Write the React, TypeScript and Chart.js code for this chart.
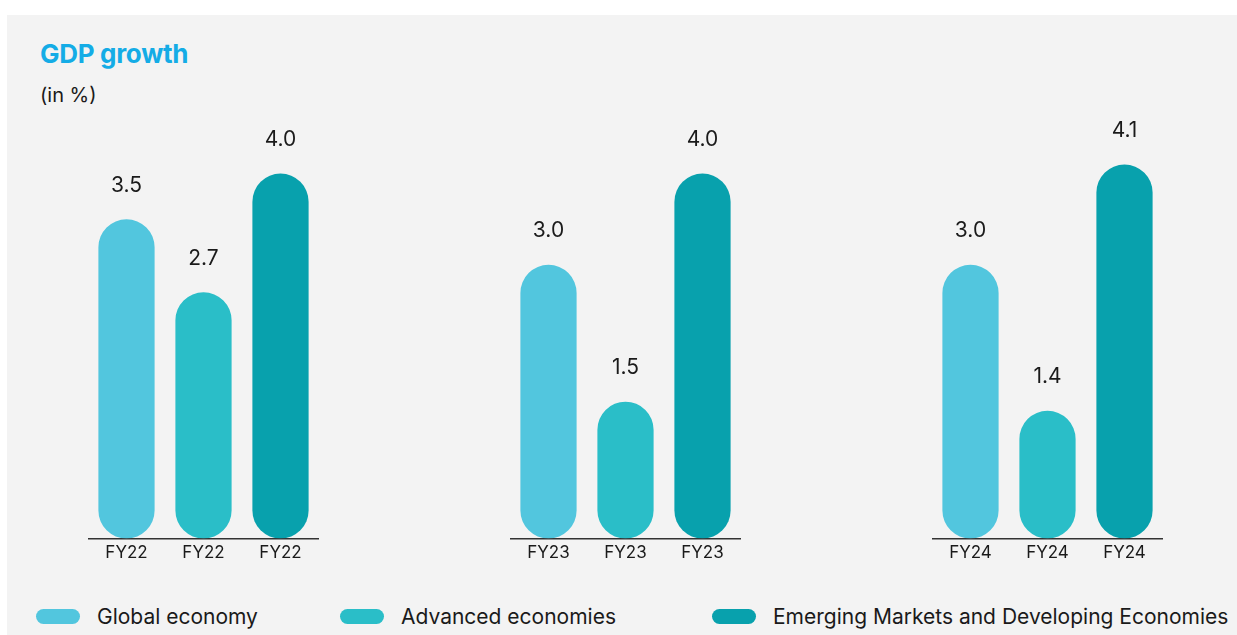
import React, { useEffect, useRef } from "react";
import { Chart, registerables } from "chart.js";

Chart.register(...registerables);

const years = ["FY22", "FY23", "FY24"];
const seriesNames = [
  "Global economy",
  "Advanced economies",
  "Emerging Markets and Developing Economies",
];
const globalEconomy = [3.5, 3.0, 3.0];
const advancedEconomies = [2.7, 1.5, 1.4];
const emergingEconomies = [4.0, 4.0, 4.1];
const seriesColors = ["#52c6de", "#2abec8", "#08a1ad"];

const FONT = "Inter, 'Noto Sans', sans-serif";

const groupLefts = [88, 510, 932];
const legendLefts = [36, 340, 712];

const valueLabelPlugin = {
  id: "valueLabels",
  afterDatasetsDraw(chart: any) {
    const ctx = chart.ctx;
    ctx.save();
    ctx.font = `21px ${FONT}`;
    ctx.fillStyle = "#1a1a1a";
    ctx.textAlign = "center";
    ctx.textBaseline = "middle";
    chart.data.datasets.forEach((ds: any, di: number) => {
      const meta = chart.getDatasetMeta(di);
      meta.data.forEach((bar: any, i: number) => {
        ctx.fillText(Number(ds.data[i]).toFixed(1), bar.x, bar.y - 34);
      });
    });
    ctx.restore();
  },
};

function GroupChart({ index }: { index: number }) {
  const ref = useRef<HTMLCanvasElement | null>(null);
  useEffect(() => {
    if (!ref.current) return;
    const year = years[index];
    const chart = new Chart(ref.current, {
      type: "bar",
      data: {
        labels: [year, year, year],
        datasets: [
          {
            data: [globalEconomy[index], advancedEconomies[index], emergingEconomies[index]],
            backgroundColor: seriesColors,
            borderRadius: 100,
            borderSkipped: false,
            barPercentage: 0.73,
            categoryPercentage: 1,
          },
        ],
      },
      options: {
        responsive: false,
        animation: false,
        layout: { padding: { top: 17, bottom: 14, left: 0, right: 0 } },
        plugins: { legend: { display: false }, tooltip: { enabled: false } },
        scales: {
          y: { display: false, min: 0, max: 4.5 },
          x: {
            grid: { display: false, drawTicks: false },
            border: { display: true, color: "#333", width: 1.5 },
            ticks: { color: "#1a1a1a", font: { family: FONT, size: 17 }, padding: 4 },
          },
        },
      },
      plugins: [valueLabelPlugin],
    });
    return () => chart.destroy();
  }, [index]);
  return (
    <canvas
      ref={ref}
      width={231}
      height={470}
      style={{ position: "absolute", left: groupLefts[index], top: 111, display: "block" }}
    />
  );
}

export default function App() {
  return (
    <div style={{ position: "absolute", left: 0, top: 0, width: 1237, height: 635, background: "#fff", overflow: "hidden" }}>
      <div style={{ position: "absolute", left: 7, top: 15, right: 0, bottom: 0, background: "#f3f3f3" }} />
      <div style={{ position: "absolute", left: 40, top: 38, fontFamily: FONT, fontWeight: 700, fontSize: 26, color: "#14ace6", letterSpacing: -0.3 }}>
        GDP growth
      </div>
      <div style={{ position: "absolute", left: 40, top: 83, fontFamily: FONT, fontSize: 20, color: "#1a1a1a" }}>
        (in %)
      </div>
      {years.map((_, i) => (
        <GroupChart key={i} index={i} />
      ))}
      {seriesNames.map((name, i) => (
        <div key={name} style={{ position: "absolute", left: legendLefts[i], top: 603, display: "flex", alignItems: "center", height: 26 }}>
          <div style={{ width: 44, height: 15, borderRadius: 8, background: seriesColors[i], marginRight: 17 }} />
          <span style={{ fontFamily: FONT, fontSize: 21, color: "#1a1a1a", whiteSpace: "nowrap" }}>{name}</span>
        </div>
      ))}
    </div>
  );
}
